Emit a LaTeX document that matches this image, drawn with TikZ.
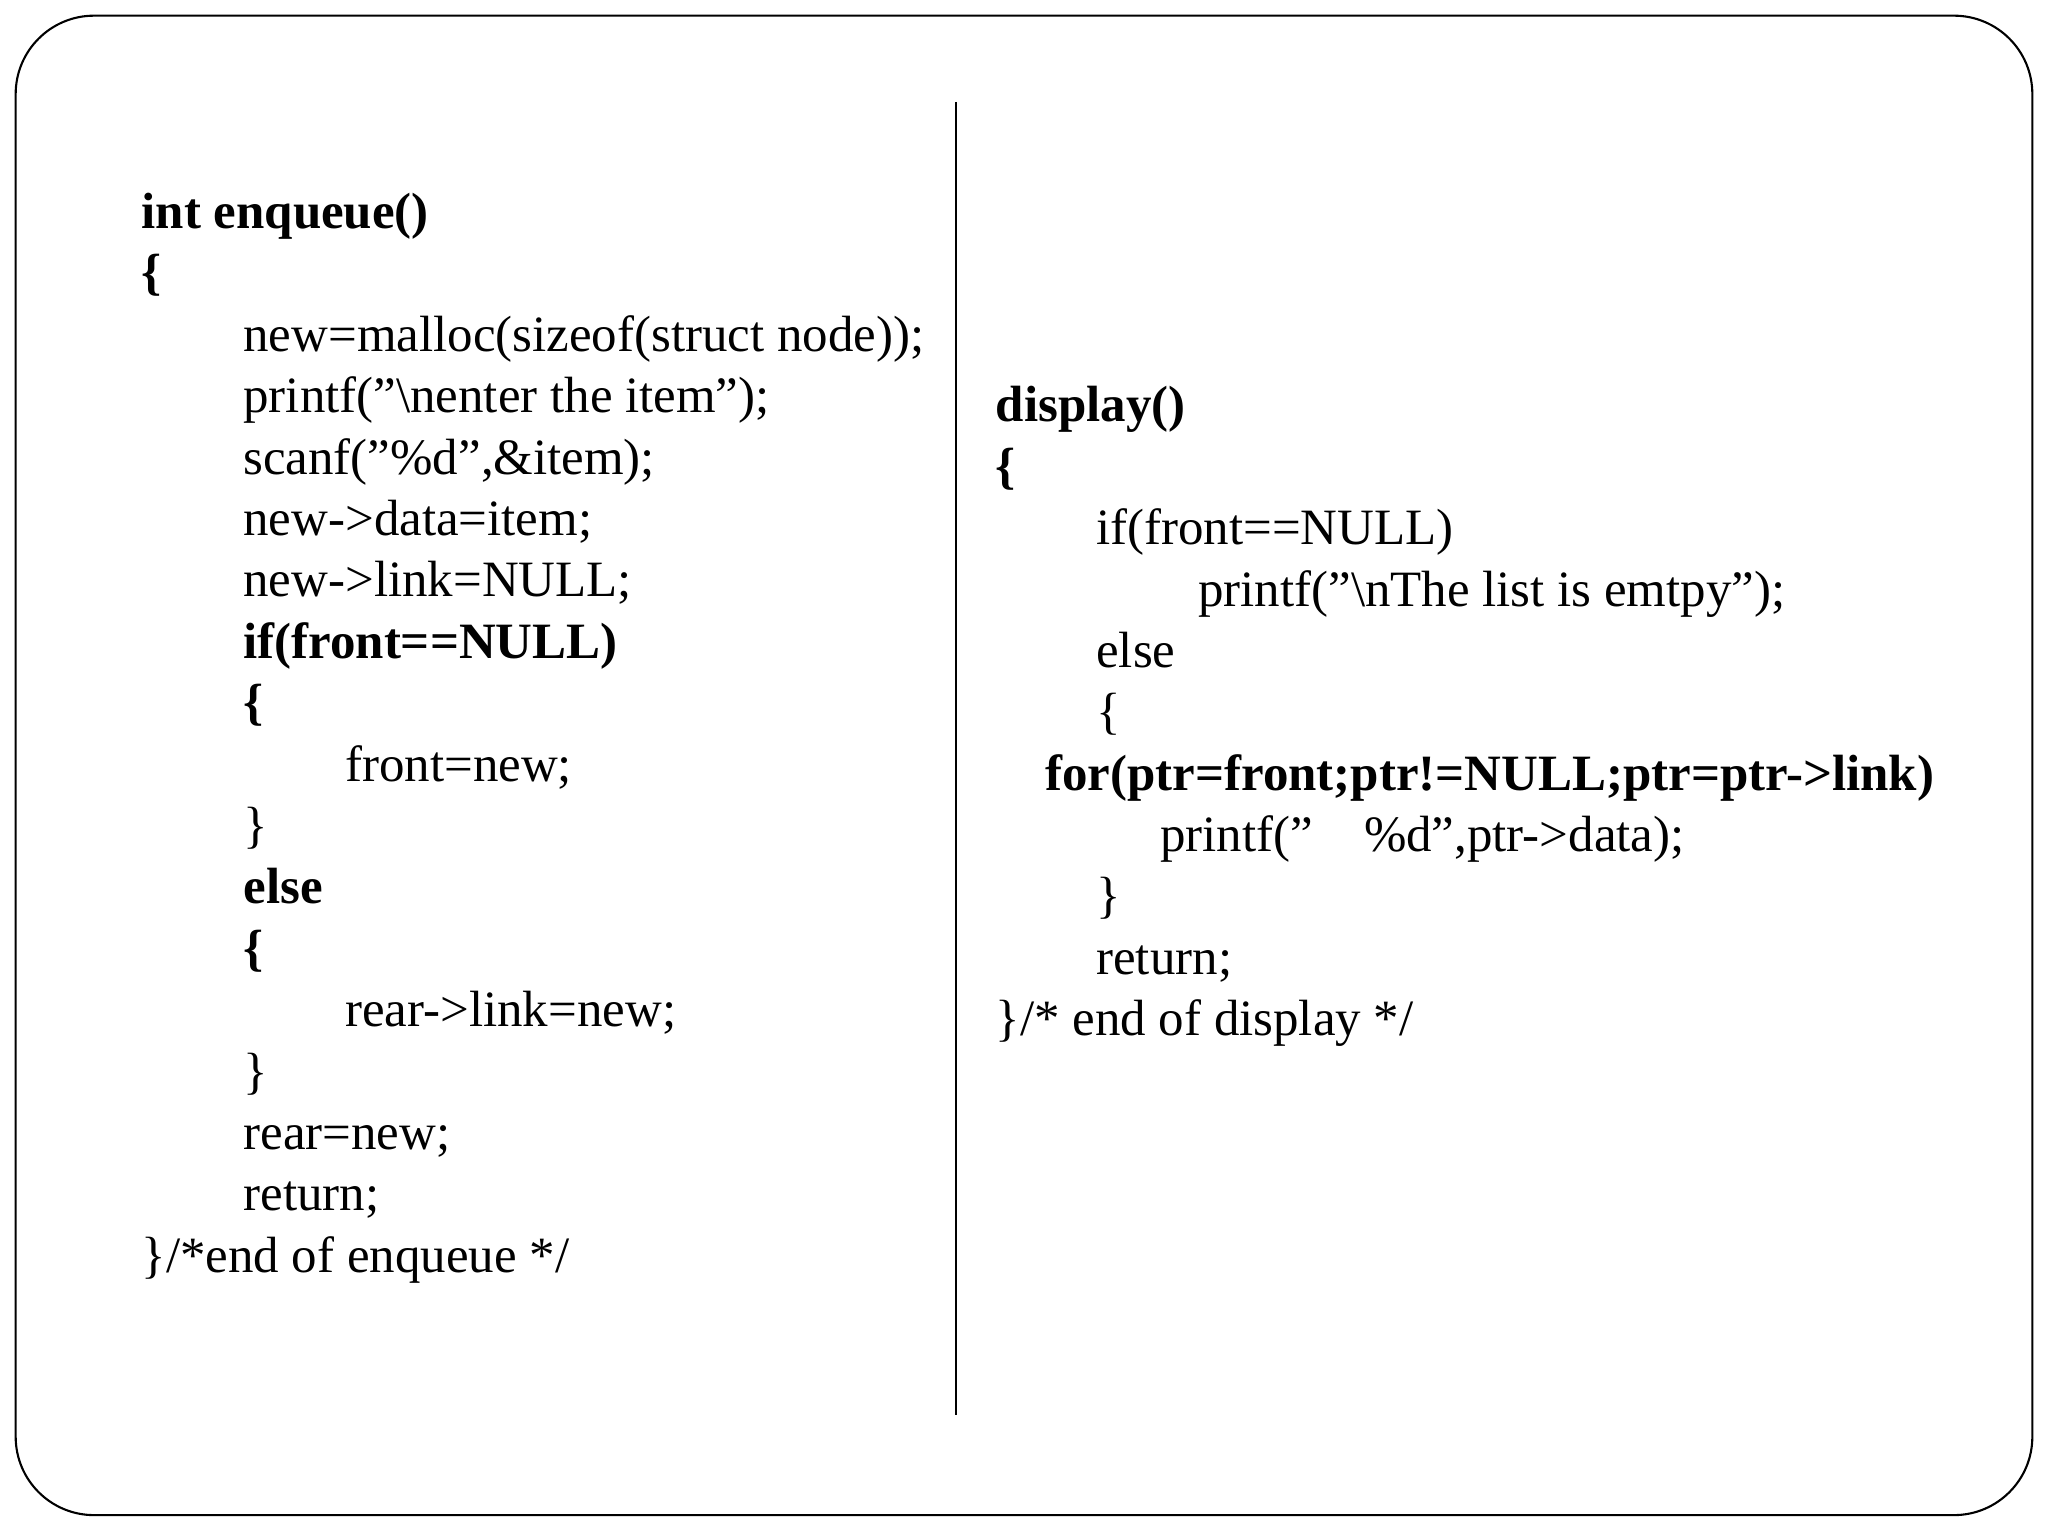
\documentclass[tikz,border=0pt]{standalone}
\usepackage{fontspec}
\setmainfont{Liberation Serif}
\newcommand{\dq}{\symbol{34}}
\begin{document}
\begin{tikzpicture}[x=0.5pt,y=-0.5pt,
  code/.style={anchor=base west,inner sep=0pt,font=\fontsize{19.5}{22}\selectfont},
  bcode/.style={code,font=\fontsize{19.5}{22}\selectfont\bfseries}]
\useasboundingbox (0,0) rectangle (1568,1176);
\draw[line width=0.8pt,rounded corners=30pt] (12,12) rectangle (1556,1160);
\coordinate (t) at (732,78); \coordinate (b) at (732,1083);
\draw[line width=0.8pt] (t) -- (b);
\node[bcode] (l1) at (108,175) {int enqueue()};
\node[bcode] (l2) at (108,222) {\{};
\node[code] (l3) at (186,269) {new=malloc(sizeof(struct node));};
\node[code] (l4) at (186,316) {printf(\dq\textbackslash nenter the item\dq);};
\node[code] (l5) at (186,363) {scanf(\dq\%d\dq,\&item);};
\node[code] (l6) at (186,410) {new->data=item;};
\node[code] (l7) at (186,457) {new->link=NULL;};
\node[bcode] (l8) at (186,504) {if(front==NULL)};
\node[bcode] (l9) at (186,551) {\{};
\node[code] (l10) at (264,598) {front=new;};
\node[code] (l11) at (186,645) {\}};
\node[bcode] (l12) at (186,692) {else};
\node[bcode] (l13) at (186,739) {\{};
\node[code] (l14) at (264,786) {rear->link=new;};
\node[code] (l15) at (186,833) {\}};
\node[code] (l16) at (186,880) {rear=new;};
\node[code] (l17) at (186,927) {return;};
\node[code] (l18) at (108,974) {\}/*end of enqueue */};
\node[bcode] (r1) at (762,323) {display()};
\node[bcode] (r2) at (762,370) {\{};
\node[code] (r3) at (839,417) {if(front==NULL)};
\node[code] (r4) at (917,464) {printf(\dq\textbackslash nThe list is emtpy\dq);};
\node[code] (r5) at (839,511) {else};
\node[code] (r6) at (839,558) {\{};
\node[bcode] (r7) at (800,605) {for(ptr=front;ptr!=NULL;ptr=ptr->link)};
\node[code] (r8) at (888,652) {printf(\dq\ \ \ \ \%d\dq,ptr->data);};
\node[code] (r9) at (839,699) {\}};
\node[code] (r10) at (839,746) {return;};
\node[code] (r11) at (762,793) {\}/* end of display */};
\end{tikzpicture}
\end{document}
